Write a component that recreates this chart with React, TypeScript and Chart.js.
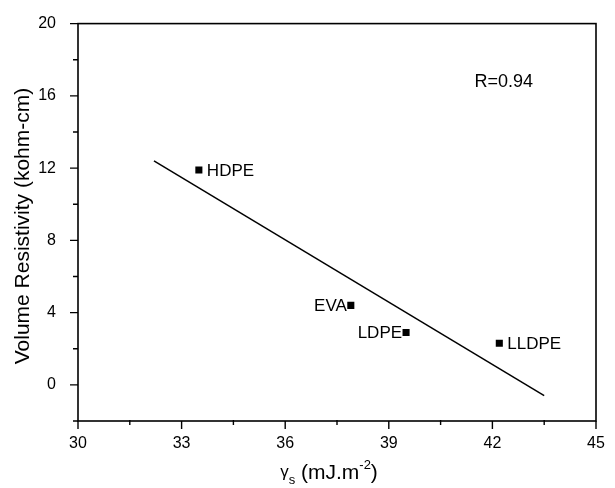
import React, { useEffect, useRef } from "react";
import { Chart, registerables } from "chart.js";

Chart.register(...registerables);

// ---- data ----
const materials = ["HDPE", "EVA", "LDPE", "LLDPE"];
const surfaceEnergy = [33.5, 37.9, 39.5, 42.2];
const resistivity = [11.9, 4.4, 2.9, 2.3];
const fitX = [32.2, 43.5];
const fitY = [12.4, -0.6];
const xTicks = [30, 33, 36, 39, 42, 45];
const xMinorTicks = [31.5, 34.5, 37.5, 40.5, 43.5];
const yTicks = [0, 4, 8, 12, 16, 20];
const yMinorTicks = [-2, 2, 6, 10, 14, 18];
const annotationText = "R=0.94";
const annotationPos = [42.33, 16.75];
const xTitle = "(mJ.m";
const yTitle = "Volume Resistivity (kohm-cm)";

const FONT = "'Liberation Sans', Arial, sans-serif";
const labelLeft = [false, true, true, false];

const decor = {
  id: "decor",
  afterDraw(chart: any) {
    const { ctx, chartArea: a } = chart;
    const xs = chart.scales.x;
    const ys = chart.scales.y;
    ctx.save();
    ctx.strokeStyle = "#000";
    ctx.fillStyle = "#000";
    ctx.lineWidth = 1.6;
    ctx.strokeRect(a.left, a.top, a.right - a.left, a.bottom - a.top);
    ctx.lineWidth = 1.4;
    ctx.beginPath();
    xTicks.forEach((v) => {
      const px = xs.getPixelForValue(v);
      ctx.moveTo(px, a.bottom);
      ctx.lineTo(px, a.bottom + 8);
    });
    xMinorTicks.forEach((v) => {
      const px = xs.getPixelForValue(v);
      ctx.moveTo(px, a.bottom - 1);
      ctx.lineTo(px, a.bottom + 4);
    });
    yTicks.forEach((v) => {
      const py = ys.getPixelForValue(v);
      ctx.moveTo(a.left, py);
      ctx.lineTo(a.left - 8, py);
    });
    yMinorTicks.forEach((v) => {
      const py = ys.getPixelForValue(v);
      ctx.moveTo(a.left, py);
      ctx.lineTo(a.left - 5, py);
    });
    ctx.stroke();

    // point labels
    ctx.font = `17px ${FONT}`;
    ctx.textBaseline = "middle";
    materials.forEach((m, i) => {
      const px = xs.getPixelForValue(surfaceEnergy[i]);
      const py = ys.getPixelForValue(resistivity[i]);
      if (labelLeft[i]) {
        ctx.textAlign = "right";
        ctx.fillText(m, px - 4, py + 1);
      } else {
        ctx.textAlign = "left";
        ctx.fillText(m, px + 8, py + 1);
      }
    });

    // annotation
    ctx.font = `18px ${FONT}`;
    ctx.textAlign = "center";
    ctx.fillText(
      annotationText,
      xs.getPixelForValue(annotationPos[0]),
      ys.getPixelForValue(annotationPos[1])
    );

    // y title
    ctx.save();
    ctx.translate(23, 226);
    ctx.rotate(-Math.PI / 2);
    ctx.font = `21px ${FONT}`;
    ctx.textAlign = "center";
    ctx.textBaseline = "middle";
    ctx.fillText(yTitle, 0, 0);
    ctx.restore();

    // x title: gamma_s (mJ.m^-2)
    const cx = (a.left + a.right) / 2 - 8;
    const ty = 479;
    ctx.textBaseline = "alphabetic";
    ctx.textAlign = "left";
    const gamma = "\u03B3";
    const main = " " + xTitle;
    ctx.font = `21px ${FONT}`;
    const wMain = ctx.measureText(main).width;
    const wClose = ctx.measureText(")").width;
    ctx.font = `13px ${FONT}`;
    const wSub = ctx.measureText("s").width;
    const wSup = ctx.measureText("-2").width;
    ctx.font = `17px ${FONT}`;
    const wG = ctx.measureText(gamma).width;
    const total = wG + wSub + wMain + wSup + wClose;
    let x0 = cx - total / 2;
    ctx.fillText(gamma, x0, ty - 2);
    x0 += wG;
    ctx.font = `13px ${FONT}`;
    ctx.fillText("s", x0, ty + 5);
    x0 += wSub;
    ctx.font = `21px ${FONT}`;
    ctx.fillText(main, x0, ty);
    x0 += wMain;
    ctx.font = `13px ${FONT}`;
    ctx.fillText("-2", x0, ty - 10);
    x0 += wSup;
    ctx.font = `21px ${FONT}`;
    ctx.fillText(")", x0, ty);

    ctx.restore();
  },
};

export default function App() {
  const ref = useRef<HTMLCanvasElement>(null);
  useEffect(() => {
    if (!ref.current) return;
    const chart = new Chart(ref.current, {
      type: "scatter",
      data: {
        datasets: [
          {
            type: "scatter",
            data: surfaceEnergy.map((x, i) => ({ x, y: resistivity[i] })),
            pointStyle: "rect",
            pointRadius: 5,
            backgroundColor: "#000",
            borderColor: "#000",
            borderWidth: 0,
          },
          {
            type: "line",
            data: fitX.map((x, i) => ({ x, y: fitY[i] })),
            borderColor: "#000",
            borderWidth: 1.5,
            pointRadius: 0,
            fill: false,
          } as any,
        ],
      },
      options: {
        responsive: false,
        animation: false,
        devicePixelRatio: 1,
        layout: { padding: { left: 0, top: 17, right: 19, bottom: 0 } },
        plugins: { legend: { display: false }, tooltip: { enabled: false } },
        scales: {
          x: {
            type: "linear",
            min: 30,
            max: 45,
            grid: { display: false },
            border: { display: false },
            afterBuildTicks: (s: any) => {
              s.ticks = xTicks.map((v) => ({ value: v }));
            },
            afterFit: (s: any) => {
              s.height = 67;
            },
            ticks: {
              color: "#000",
              font: { family: FONT, size: 16 },
              padding: 5,
              maxRotation: 0,
            },
          },
          y: {
            type: "linear",
            min: -2,
            max: 20,
            grid: { display: false },
            border: { display: false },
            afterBuildTicks: (s: any) => {
              s.ticks = yTicks.map((v) => ({ value: v }));
            },
            afterFit: (s: any) => {
              s.width = 78;
            },
            ticks: {
              color: "#000",
              font: { family: FONT, size: 16 },
              padding: 14,
            },
          },
        },
      },
      plugins: [decor],
    });
    return () => chart.destroy();
  }, []);
  return (
    <div style={{ position: "fixed", left: 0, top: 0, width: 615, height: 488, background: "#fff" }}>
      <canvas ref={ref} width={615} height={488} />
    </div>
  );
}
